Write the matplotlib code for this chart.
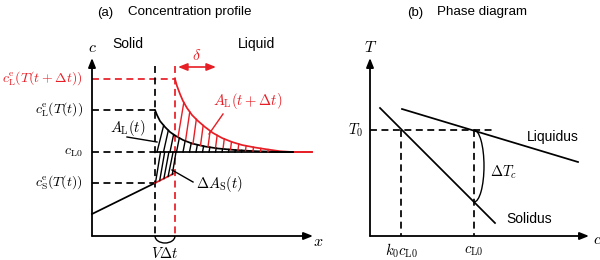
import numpy as np
import matplotlib
matplotlib.use("Agg")
import matplotlib.pyplot as plt
from matplotlib.patches import Arc

plt.rcParams['mathtext.fontset'] = 'cm'
plt.rcParams['font.family'] = ['Liberation Sans', 'DejaVu Sans']

RED = '#e61e25'
# ---------------- schematic data (figure pixel space) ----------------
# panel (a)
level_labels = [r'$c_{\mathrm{L}}^{\mathrm{e}}(T(t+\Delta t))$', r'$c_{\mathrm{L}}^{\mathrm{e}}(T(t))$',
                r'$c_{\mathrm{L0}}$', r'$c_{\mathrm{S}}^{\mathrm{e}}(T(t))$']
level_y = [79, 110, 152, 183]
level_colors = [RED, 'k', 'k', 'k']
iface_old_x = 155
iface_new_x = 175

red_curve_x = [175, 177, 180, 183, 187, 192, 198, 205, 213, 222, 232, 242, 255, 268, 280, 292, 312]
red_curve_y = [79, 86, 94, 101, 108, 115, 121, 127, 133, 138, 142, 145, 147.5, 149.5, 151.2, 152, 152]
black_curve_x = [155, 157, 160, 165, 170, 175, 183, 192, 205, 218, 235, 255, 275, 293]
black_curve_y = [110, 115, 121, 127, 132, 135.5, 140, 143.5, 146.5, 148.5, 150, 151.2, 151.8, 152]
solid_x = [92, 155]
solid_y = [214, 183]
solid_new_x = [155, 175]
solid_new_y = [183, 173]

# panel (b)
solidus_x = [380, 495]
solidus_y = [108, 223]
liquidus_x = [402, 578]
liquidus_y = [109, 162]
T0_y = 130
k0cL0_x = 401
cL0_x = 474

fig = plt.figure(figsize=(6.0, 2.6), dpi=100)
ax = fig.add_axes([0, 0, 1, 1])
ax.set_xlim(0, 600)
ax.set_ylim(260, 0)
ax.axis('off')

LW = 1.25
DASH = (0, (4.0, 2.6))


def arrow(x0, y0, x1, y1, color='k', style='-|>', lw=1.3):
    ax.annotate('', xy=(x1, y1), xytext=(x0, y0),
                arrowprops=dict(arrowstyle=style + ',head_length=0.55,head_width=0.22',
                                lw=lw, color=color, shrinkA=0, shrinkB=0))


# ---------------- panel (a) ----------------
ax.text(105, 13, '(a)', fontsize=9.5, ha='center', va='center')
ax.text(128, 12, 'Concentration profile', fontsize=9.6, ha='left', va='center')
ax.text(128, 44, 'Solid', fontsize=10, ha='center', va='center')
ax.text(238, 44, 'Liquid', fontsize=10, ha='left', va='center')

arrow(92, 236, 92, 58)
arrow(92, 236, 313, 236)
ax.text(92, 48, r'$c$', fontsize=11.5, ha='center', va='center')
ax.text(318, 242, r'$x$', fontsize=11.5, ha='center', va='center')

# level lines and labels
ax.plot([92, iface_new_x], [level_y[0]] * 2, color=RED, lw=LW, ls=DASH)
for lab, yy, col in zip(level_labels, level_y, level_colors):
    ax.text(83, yy, lab, fontsize=10, ha='right', va='center', color=col)
for yy in level_y[1:]:
    ax.plot([92, iface_old_x], [yy, yy], color='k', lw=LW, ls=DASH)

# interface positions
ax.plot([iface_old_x, iface_old_x], [66, 236], color='k', lw=LW, ls=DASH)
ax.plot([iface_new_x, iface_new_x], [66, 236], color=RED, lw=LW, ls=DASH)

# delta arrow
arrow(178, 67, 216, 67, color=RED, style='<|-|>', lw=1.2)
ax.text(197, 56, r'$\delta$', fontsize=11.5, ha='center', va='center', color=RED)

# profiles
ax.plot(red_curve_x, red_curve_y, color=RED, lw=LW)
ax.plot([270, 312], [152, 152], color=RED, lw=LW)
ax.plot(black_curve_x, black_curve_y, color='k', lw=LW)
ax.plot([iface_old_x, 293], [152, 152], color='k', lw=LW)
ax.plot(solid_x, solid_y, color='k', lw=LW)
ax.plot(solid_new_x, solid_new_y, color=RED, lw=LW)

# hatching
rcx = np.array(red_curve_x, float); rcy = np.array(red_curve_y, float)
bcx = np.array(black_curve_x, float); bcy = np.array(black_curve_y, float)
# red hatch: between black curve (below) and red curve (above)
for xb in np.arange(178, 280, 7.5):
    ylo = np.interp(xb, bcx, bcy)
    xt = xb + 0.12 * (ylo - np.interp(xb, rcx, rcy))
    yhi = np.interp(xt, rcx, rcy)
    if ylo - yhi > 2:
        ax.plot([xb, xt], [ylo, yhi], color=RED, lw=1.0)
# black hatch: between cL0 and black curve
for xb in np.arange(157, 285, 6.5):
    xt = xb + 0.18 * (152 - np.interp(xb, bcx, bcy))
    yhi = np.interp(xt, bcx, bcy)
    if 152 - yhi > 1.5:
        ax.plot([xb, xt], [152, yhi], color='k', lw=1.0)
# delta A_S hatch: between new solid segment and cL0
for xb in np.arange(155.5, 176, 4.2):
    ylo = np.interp(xb, solid_new_x, solid_new_y)
    xt = min(xb + 5, 176)
    ax.plot([xb, xt], [ylo, 152], color='k', lw=1.0)

# labels with leaders
ax.text(128, 128, r'$A_{\mathrm{L}}(t)$', fontsize=10.5, ha='center', va='center')
ax.plot([127, 157], [137, 142], color='k', lw=1.0)
ax.text(213, 101, r'$A_{\mathrm{L}}(t+\Delta t)$', fontsize=10.5, ha='left', va='center', color=RED)
ax.plot([223, 209], [114, 134], color=RED, lw=1.0)
ax.text(196, 184, r'$\Delta A_{\mathrm{S}}(t)$', fontsize=10.5, ha='left', va='center')
ax.plot([193, 172], [182, 170], color='k', lw=1.0)

# V dt brace
ax.add_patch(Arc((165, 236), 20, 14, theta1=0, theta2=180, color='k', lw=1.0))
ax.text(165, 253, r'$V\Delta t$', fontsize=10.5, ha='center', va='center')

# ---------------- panel (b) ----------------
ax.text(415, 13, '(b)', fontsize=9.5, ha='center', va='center')
ax.text(437, 12, 'Phase diagram', fontsize=9.6, ha='left', va='center')

arrow(370, 236, 370, 58)
arrow(370, 236, 589, 236)
ax.text(371, 48, r'$T$', fontsize=11.5, ha='center', va='center')
ax.text(597, 240, r'$c$', fontsize=11.5, ha='center', va='center')

ax.plot(solidus_x, solidus_y, color='k', lw=LW)
ax.plot(liquidus_x, liquidus_y, color='k', lw=LW)
ax.plot([370, 492], [T0_y, T0_y], color='k', lw=LW, ls=DASH)
ax.plot([k0cL0_x, k0cL0_x], [T0_y, 236], color='k', lw=LW, ls=DASH)
ax.plot([cL0_x, cL0_x], [T0_y, 236], color='k', lw=LW, ls=DASH)
ax.text(356, T0_y, r'$T_0$', fontsize=10.5, ha='center', va='center')

ys = np.interp(cL0_x, solidus_x, solidus_y)
ax.add_patch(Arc((cL0_x, (T0_y + ys) / 2), 20, ys - T0_y, theta1=-90, theta2=90, color='k', lw=1.0))
ax.text(490, 172, r'$\Delta T_c$', fontsize=10.5, ha='left', va='center')

ax.text(527, 137, 'Liquidus', fontsize=10, ha='left', va='center')
ax.text(506, 219, 'Solidus', fontsize=10, ha='left', va='center')
ax.text(k0cL0_x, 251, r'$k_0c_{\mathrm{L0}}$', fontsize=10.5, ha='center', va='center')
ax.text(cL0_x, 251, r'$c_{\mathrm{L0}}$', fontsize=10.5, ha='center', va='center')

fig.savefig('out.png', dpi=100)
